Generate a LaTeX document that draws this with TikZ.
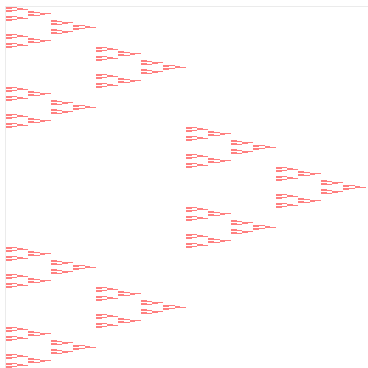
\documentclass[tikz,border=0pt]{standalone}
\begin{document}
\begin{tikzpicture}[x=1pt,y=-1pt,
  cell/.style={fill=red,fill opacity=0.5,draw=none},
  spine/.style={draw=black!8,line width=0.8pt}]
\useasboundingbox (0,0) rectangle (368,368);
\draw[spine] (5,6.5) -- (368,6.5);
\draw[spine] (5.5,6.5) -- (5.5,368);
\foreach \ax/\ay in {0/0,0/2,1/1}{
 \foreach \bx/\by in {0/0,0/2,1/1}{
  \foreach \cx/\cy in {0/0,0/2,1/1}{
   \foreach \dx/\dy in {0/0,0/2,1/1}{
    \foreach \ex/\ey in {0/0,0/2,1/1}{
     \foreach \fx/\fy in {0/0,0/2,1/1}{
      \fill[cell] (6+180*\ax+90*\bx+45*\cx+22.5*\dx+11.25*\ex+5.625*\fx,
                   7+120*\ay+40*\by+13.3333*\cy+4.44444*\dy+1.48148*\ey+0.493827*\fy)
        rectangle ++(5.625,0.493827);
     }
    }
   }
  }
 }
}
\end{tikzpicture}
\end{document}
